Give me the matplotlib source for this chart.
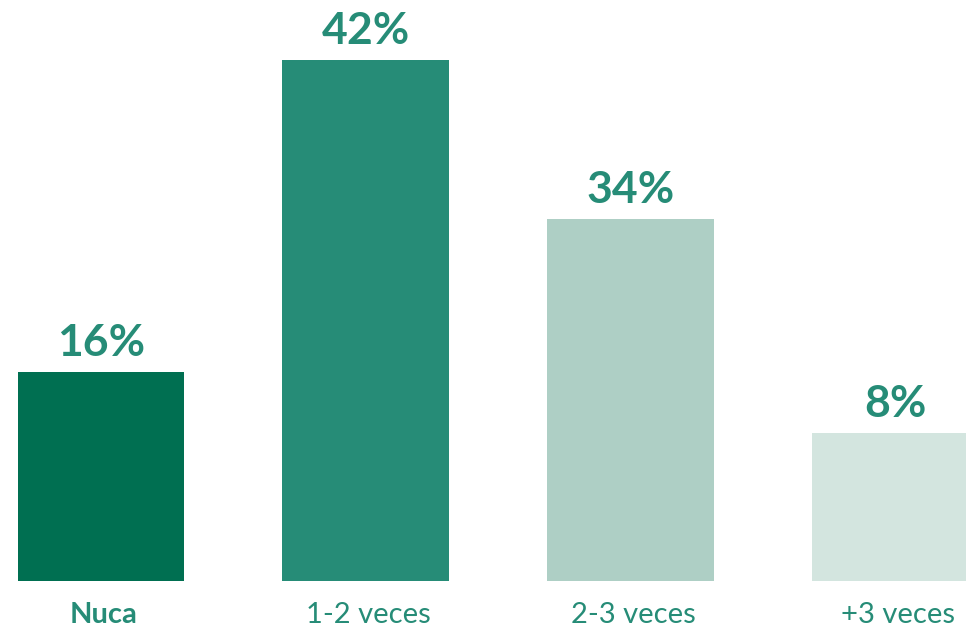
import matplotlib.pyplot as plt

categories = ["Nuca", "1-2 veces", "2-3 veces", "+3 veces"]
pct_labels = [16, 42, 34, 8]
# bar heights as drawn in the picture (not exactly proportional to labels)
bar_heights = [16.8, 42, 29.2, 11.9]
colors = ["#006F51", "#268C77", "#AECFC5", "#D3E5DF"]
text_color = "#268C77"

plt.rcParams['font.family'] = ['Lato', 'DejaVu Sans']

fig = plt.figure(figsize=(9.66, 6.29), dpi=100)
ax = fig.add_axes([0, 48.3 / 629, 1, 580.7 / 629])

x = list(range(len(categories)))
ax.bar(x, bar_heights, width=0.629, color=colors)

for i, (h, p) in enumerate(zip(bar_heights, pct_labels)):
    ax.annotate(f"{p}%", (i, h), xytext=(0, 11.5), textcoords="offset points",
                ha="center", va="baseline", fontsize=32, fontweight="bold",
                color=text_color)
    ax.annotate(categories[i], (i, 0), xytext=(2, -30.5), textcoords="offset points",
                ha="center", va="baseline", fontsize=21,
                fontweight="bold" if i == 0 else "normal",
                color=text_color, annotation_clip=False)

ax.set_xlim(-0.3816, 3.268)
ax.set_ylim(0, 46.84)
ax.axis("off")

fig.savefig("out.png", dpi=100)
